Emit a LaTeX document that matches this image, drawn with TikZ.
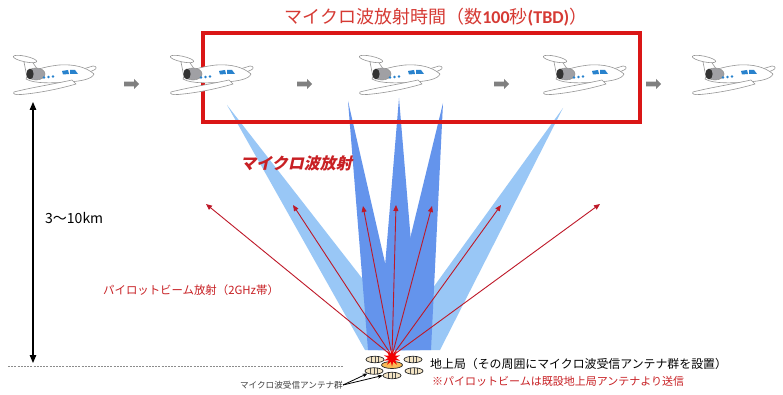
\documentclass[tikz,border=0pt]{standalone}
\usepackage{fontspec}
\newfontfamily\jp{Noto Sans CJK JP}
\newfontfamily\jpsl{Noto Sans CJK JP}[FakeSlant=0.22]
\newfontfamily\lat{Carlito}
\usetikzlibrary{arrows.meta,shapes.arrows,shapes.geometric}

\definecolor{titlered}{RGB}{214,58,52}
\definecolor{boxred}{RGB}{218,22,22}
\definecolor{labred}{RGB}{200,32,36}
\definecolor{rayred}{RGB}{190,24,40}
\definecolor{beamlight}{RGB}{153,199,246}
\definecolor{beamdark}{RGB}{100,148,236}
\definecolor{planegray}{RGB}{150,150,150}
\definecolor{winblue}{RGB}{40,130,205}
\definecolor{enginegray}{RGB}{120,120,125}
\definecolor{arrowgray}{RGB}{128,128,128}
\definecolor{antfill}{RGB}{243,228,196}
\definecolor{antcore}{RGB}{248,186,86}

\tikzset{
  planeline/.style={draw=planegray, line width=0.6pt, fill=white, line join=round},
  jetplane/.pic={
    % far wing behind the fuselage
    \draw[planeline] (16,-2) -- (39,-9) .. controls (43,-9) and (43,-6) .. (40,-5) -- (27,1) -- cycle;
    % tail fin and stabiliser
    \draw[planeline] (-27,2) -- (-30,-13) -- (-23,-15) -- (-14,-2) -- cycle;
    \draw[planeline, rotate around={-12:(-29,-16)}] (-29,-16) ellipse (12pt and 2.8pt);
    % fuselage
    \draw[planeline] (-28,4) .. controls (-26,-4) and (-12,-8) .. (5,-10)
      .. controls (20,-11) and (32,-8) .. (40,-1)
      .. controls (38,4) and (28,6) .. (15,7)
      .. controls (0,8) and (-20,9) .. (-28,4) -- cycle;
    % engine
    \draw[draw=planegray, line width=0.6pt, fill=enginegray!70] (-18,-1) ellipse (9pt and 6pt);
    \fill[black!80] (-24,-1) ellipse (3.6pt and 5.4pt);
    % windows
    \foreach \wx/\wy in {-10/2.5,-5.5/2,-1/1.5} \fill[winblue] (\wx,\wy) circle (1.4pt);
    \fill[winblue] (8,-4) -- (14,-5) -- (15,-1) -- (9,-0.5) -- cycle;
    \fill[winblue] (16,-5) -- (21,-5) -- (24,-1) -- (16,-1) -- cycle;
    % near wing
    \draw[planeline] (18,5) .. controls (0,9) and (-25,13) .. (-40,17)
      .. controls (-42,19) and (-38,20) .. (-33,19.5)
      .. controls (-15,18) and (5,14) .. (22,9) -- cycle;
  },
  grayarrow/.style={single arrow, fill=arrowgray, draw=none, minimum height=15pt,
    minimum width=10pt, inner sep=2.2pt, single arrow head extend=2.5pt},
  rayarrow/.style={rayred, line width=0.9pt, -{Triangle[length=6pt,width=5pt]}},
  antenna/.style={ellipse, draw=black!85, line width=0.7pt, fill=antfill,
    minimum width=18pt, minimum height=6.5pt, inner sep=0pt,
    path picture={\foreach \dx in {-3.5,0,3.5}
      \draw[black!70, line width=0.5pt] ([xshift=\dx pt]path picture bounding box.north)
        -- ([xshift=\dx pt]path picture bounding box.south);}},
  antcenter/.style={ellipse, draw=black!85, line width=0.7pt, fill=antcore,
    minimum width=21pt, minimum height=7pt, inner sep=0pt},
  txt/.style={inner sep=0pt, font=\jp}
}

\begin{document}
\begin{tikzpicture}[x=1pt,y=-1pt]
\useasboundingbox (0,0) rectangle (783,395);
\fill[white] (0,0) rectangle (783,395);

% microwave beams
\fill[beamlight] (227,105) -- (365,350) -- (418,350) -- cycle;
\fill[beamlight] (563,108) -- (440,350) -- (388,350) -- cycle;
\fill[beamdark] (348,101) -- (368,350) -- (405,350) -- cycle;
\fill[beamdark] (399,98) -- (378,350) -- (420,350) -- cycle;
\fill[beamdark] (443,103) -- (383,350) -- (431,350) -- cycle;

% emission time window
\draw[boxred, line width=3.6pt] (203,33) rectangle (640,122);
\node[txt, text=titlered, font=\jp\fontsize{18}{21}\selectfont] (title) at (436,17)
  {マイクロ波放射時間（数{\lat\bfseries 100}秒{\lat\bfseries (TBD)}）};

% aircraft along the flight path
\foreach \px in {54,211,400,584,733} \pic at (\px,75) {jetplane};
\node[grayarrow] (ga1) at (130.5,84) {};
\node[grayarrow] (ga2) at (303.5,84) {};
\node[grayarrow] (ga3) at (500.5,84) {};
\node[grayarrow] (ga4) at (652.5,84) {};

% altitude
\coordinate (htop) at (33,102);
\coordinate (hbot) at (33,363);
\draw[line width=1.2pt, {Triangle[length=8pt,width=6.5pt]}-{Triangle[length=8pt,width=6.5pt]}] (htop) -- (hbot);
\node[txt, anchor=west, font=\jp\fontsize{14}{16}\selectfont] (km) at (45,218) {3～10km};

% ground level
\coordinate (gl) at (8,366);
\coordinate (gr) at (343,366);
\draw[black!45, line width=0.7pt, dash pattern=on 2pt off 1.2pt] (gl) -- (gr);

% labels
\node[txt, anchor=west, text=labred, font=\jpsl\bfseries\fontsize{16}{18}\selectfont] (mw) at (240,163) {マイクロ波放射};
\node[txt, anchor=west, text=labred, font=\jp\fontsize{11.4}{13}\selectfont] (pilot) at (103,290) {パイロットビーム放射（2GHz帯）};
\node[txt, anchor=west, font=\jp\fontsize{11.9}{14}\selectfont] (gslabel) at (430,364) {地上局（その周囲にマイクロ波受信アンテナ群を設置）};
\node[txt, anchor=west, text=labred, font=\jp\fontsize{11}{13}\selectfont] (note) at (432,381) {※パイロットビームは既設地上局アンテナより送信};
\node[txt, anchor=east, text=black!75, font=\jp\fontsize{8.6}{10}\selectfont] (antlbl) at (343,385) {マイクロ波受信アンテナ群};

% receiving antennas around the ground station
\node[antenna] (a1) at (375,359.5) {};
\node[antenna] (a2) at (413,359.5) {};
\node[antenna] (a3) at (374,371) {};
\node[antenna] (a4) at (414,371) {};
\node[antenna] (a5) at (392,375.5) {};
\node[antcenter] (gs0) at (392,365) {};

\draw[black, line width=0.8pt, -{Stealth[length=5pt,width=4pt]}] (antlbl.east) -- (a3.south west);
\draw[black, line width=0.8pt, -{Stealth[length=5pt,width=4pt]}] (antlbl.east) -- (a5.west);

% pilot beam rays
\coordinate (gs) at (392,356);
\coordinate (t1) at (206,204);
\coordinate (t2) at (293,205);
\coordinate (t3) at (363,206);
\coordinate (t4) at (396,205);
\coordinate (t5) at (432,206);
\coordinate (t6) at (501,205);
\coordinate (t7) at (600,204);
\foreach \t in {t1,t2,t3,t4,t5,t6,t7} \draw[rayarrow] (gs) -- (\t);

\node[star, star points=10, star point ratio=2.2, fill=red!95!black, draw=none,
  minimum size=17pt, inner sep=0pt] (burst) at (392,358) {};
\end{tikzpicture}
\end{document}
